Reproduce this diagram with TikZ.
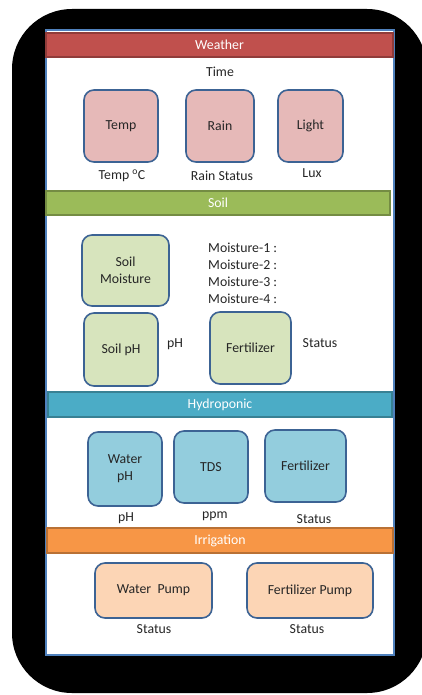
\documentclass[tikz,border=0pt]{standalone}
\usepackage{fontspec}
\setmainfont{Carlito}
\usepackage{tikz}

\definecolor{boxline}{HTML}{3C6394}
\definecolor{frameblue}{HTML}{4F81BD}
\definecolor{txt}{HTML}{262626}
\definecolor{weatherbar}{HTML}{C0504D}
\definecolor{weatherbox}{HTML}{E6B9B8}
\definecolor{soilbar}{HTML}{9BBB59}
\definecolor{soilbox}{HTML}{D7E4BD}
\definecolor{hydrobar}{HTML}{4BACC6}
\definecolor{hydrobox}{HTML}{93CDDD}
\definecolor{irribar}{HTML}{F79646}
\definecolor{irribox}{HTML}{FCD5B5}

\begin{document}
\begin{tikzpicture}[x=1pt, y=-1pt, font=\fontsize{13.8}{17}\selectfont, text=txt]
\tikzstyle{sensor} = [rectangle, draw=boxline, line width=1.6pt, rounded corners=10pt, align=center, inner sep=0pt]
\tikzstyle{bar} = [rectangle, line width=1.3pt, text=white, inner sep=0pt, minimum height=24pt]
\tikzstyle{value} = [inner sep=0pt]

\useasboundingbox (0,0) rectangle (421,695);
\fill[white] (0,0) rectangle (421,695);
\fill[black, rounded corners=60pt] (12,9) rectangle (427,693);
\draw[frameblue, line width=1.5pt, fill=white] (46,30) rectangle (394,655);

% Weather
\node [bar, fill=weatherbar, draw=weatherbar!75!black, minimum width=347pt] (weather) at (219.5,45) {Weather};
\node [value] (time) at (220,72) {Time};
\node [sensor, fill=weatherbox, minimum width=74pt, minimum height=72pt] (temp) at (121,126) {Temp};
\node [sensor, fill=weatherbox, minimum width=68pt, minimum height=72pt] (rain) at (220,126) {Rain};
\node [sensor, fill=weatherbox, minimum width=65pt, minimum height=72pt] (light) at (310.5,126) {Light};
\node [value] (tempval) at (122,176) {Temp \textsuperscript{o}C};
\node [value] (rainval) at (222,176) {Rain Status};
\node [value] (luxval) at (312,173) {Lux};

% Soil
\node [bar, fill=soilbar, draw=soilbar!75!black, minimum width=344pt] (soil) at (218,203) {Soil};
\node [sensor, fill=soilbox, minimum width=87pt, minimum height=71pt] (moist) at (125.5,270.5) {Soil\\Moisture};
\node [sensor, fill=soilbox, minimum width=74pt, minimum height=73pt] (soilph) at (121,349.5) {Soil pH};
\node [sensor, fill=soilbox, minimum width=81pt, minimum height=72pt] (soilfert) at (250.5,348) {Fertilizer};
\foreach \i in {1,...,4}
  \node [value, anchor=west] (moist\i) at (208,231+17*\i) {Moisture-\i\ :};
\node [value] (soilphval) at (175,344) {pH};
\node [value] (soilfertval) at (320,343) {Status};

% Hydroponic
\node [bar, fill=hydrobar, draw=hydrobar!75!black, minimum width=344pt, minimum height=25pt] (hydro) at (220,404.5) {Hydroponic};
\node [sensor, fill=hydrobox, minimum width=74pt, minimum height=74pt] (waterph) at (125,469) {Water\\pH};
\node [sensor, fill=hydrobox, minimum width=74pt, minimum height=72pt] (tds) at (211,467) {TDS};
\node [sensor, fill=hydrobox, minimum width=81pt, minimum height=72pt] (hydrofert) at (305.5,466) {Fertilizer};
\node [value] (waterphval) at (126,518) {pH};
\node [value] (tdsval) at (215,516) {ppm};
\node [value] (hydrofertval) at (314,519) {Status};

% Irrigation
\node [bar, fill=irribar, draw=irribar!75!black, minimum width=346pt, minimum height=25pt] (irri) at (220,540.5) {Irrigation};
\node [sensor, fill=irribox, minimum width=117pt, minimum height=55pt] (wpump) at (153.5,590.5) {Water\ \ Pump};
\node [sensor, fill=irribox, minimum width=126pt, minimum height=55pt] (fpump) at (310,590.5) {Fertilizer Pump};
\node [value] (wpumpval) at (154,629) {Status};
\node [value] (fpumpval) at (307,629) {Status};
\end{tikzpicture}
\end{document}
